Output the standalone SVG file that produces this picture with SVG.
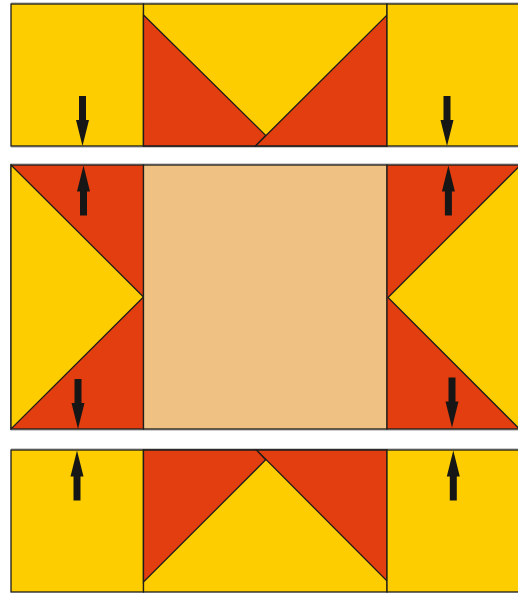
<svg xmlns="http://www.w3.org/2000/svg" xmlns:xlink="http://www.w3.org/1999/xlink" width="518" height="593" viewBox="0 0 518 593">
<style>
.y{fill:#FDCD00;stroke:#1d1d1b;stroke-width:1.3;stroke-linejoin:miter}
.r{fill:#E33E0F;stroke:#1d1d1b;stroke-width:1.3;stroke-linejoin:miter}
.t{fill:#EFC283;stroke:#1d1d1b;stroke-width:1.3}
.sh{fill:none;stroke:#9a9a9a;stroke-width:1}
.arr{fill:#161616}
</style>
<defs>
<path id="ad" class="arr" d="M0,0 L-6.5,-26 L-3.5,-26 L-3.5,-50 L3.5,-50 L3.5,-26 L6.5,-26 Z"/>
</defs>
<rect width="518" height="593" fill="#ffffff"/>
<g id="shadows">
<line class="sh" x1="11" y1="3" x2="518" y2="3"/>
<line class="sh" x1="11" y1="147" x2="518" y2="147"/>
<line class="sh" x1="11" y1="164" x2="518" y2="164"/>
<line class="sh" x1="11" y1="430" x2="518" y2="430"/>
<line class="sh" x1="11" y1="449" x2="518" y2="449"/>
</g>
<g id="top-left"><rect class="y" x="11" y="4" width="132.5" height="142"/></g>
<g id="top-middle">
<rect class="y" x="143.5" y="4" width="243.5" height="142"/>
<polygon class="r" points="143.5,15 265.7,135.4 255.5,146 143.5,146"/>
<polygon class="r" points="255.5,146 387,15 387,146"/>
</g>
<g id="top-right"><rect class="y" x="387" y="4" width="140" height="142"/></g>
<g id="middle-left">
<rect class="r" x="11" y="165" width="132.5" height="264"/>
<polygon class="y" points="11,165 143.5,297 11,429"/>
</g>
<g id="center"><rect class="t" x="143.5" y="165" width="243.5" height="264"/></g>
<g id="middle-right">
<rect class="r" x="387" y="165" width="140" height="264"/>
<polygon class="y" points="388,297.5 520,165.5 520,429.5"/>
</g>
<g id="bottom-left"><rect class="y" x="11" y="450" width="132.5" height="142"/></g>
<g id="bottom-middle">
<rect class="y" x="143.5" y="450" width="243.5" height="142"/>
<polygon class="r" points="143.5,450 256.5,450 265.7,459.8 143.5,582"/>
<polygon class="r" points="256.5,450 387,450 387,581"/>
</g>
<g id="bottom-right"><rect class="y" x="387" y="450" width="140" height="142"/></g>
<g id="connectors">
<use xlink:href="#ad" transform="translate(82.5,146)"/>
<use xlink:href="#ad" transform="translate(447,146)"/>
<use xlink:href="#ad" transform="translate(83.5,165.5) rotate(180)"/>
<use xlink:href="#ad" transform="translate(448.4,165.5) rotate(180)"/>
<use xlink:href="#ad" transform="translate(78,429)"/>
<use xlink:href="#ad" transform="translate(452,427.5)"/>
<use xlink:href="#ad" transform="translate(77,450.5) rotate(180)"/>
<use xlink:href="#ad" transform="translate(453.3,450.5) rotate(180)"/>
</g>
</svg>
